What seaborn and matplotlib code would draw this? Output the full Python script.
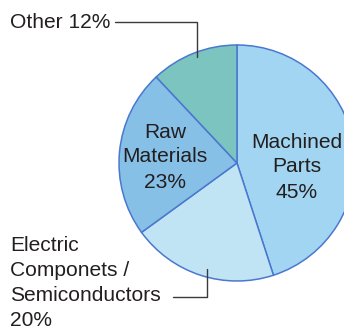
import matplotlib
matplotlib.use("Agg")
import matplotlib.pyplot as plt
import seaborn as sns

# Cost breakdown (clockwise from 12 o'clock)
categories = ["Machined Parts", "Electric Componets / Semiconductors", "Raw Materials", "Other"]
shares = [45, 20, 23, 12]
slice_colors = ["#a2d5f1", "#c1e4f4", "#86c0e7", "#7bc4c0"]

sns.set_theme(style="white")
plt.rcParams["font.family"] = ["Liberation Sans", "DejaVu Sans"]

W, H = 344, 329
fig = plt.figure(figsize=(W / 100, H / 100), dpi=100)
ax = fig.add_axes([0, 0, 1, 1])

cx, cy, r = 237, H - 163, 118
ax.pie(shares, colors=slice_colors, startangle=90, counterclock=False,
       center=(cx, cy), radius=r, frame=True,
       wedgeprops=dict(edgecolor="#4a78cf", linewidth=1.1))
ax.set_xlim(0, W)
ax.set_ylim(0, H)
ax.set_aspect("equal")
ax.set_axis_off()

txt = "#231f20"
fs = 15.1

def ypx(y):
    return H - y

def stacked(x, y0, lines, ha):
    # one text per line, 25 px apart
    for i, line in enumerate(lines):
        ax.text(x, ypx(y0 + 25 * i), line, ha=ha, va="center",
                fontsize=fs, color=txt)

# Inside labels
stacked(297, 142, ["Machined", "Parts", f"{shares[0]}%"], "center")
stacked(165, 132, ["Raw", "Materials", f"{shares[2]}%"], "center")

# Outside labels with leader lines
ax.text(10, ypx(22), f"{categories[3]} {shares[3]}%", ha="left", va="center",
        fontsize=fs, color=txt)
ax.plot([115, 197, 197], [ypx(22), ypx(22), ypx(57)], color="#3a3a3a", lw=1.0)

stacked(10, 245.5, ["Electric", "Componets /", "Semiconductors", f"{shares[1]}%"], "left")
ax.plot([173, 207, 207], [ypx(296.5), ypx(296.5), ypx(269)], color="#3a3a3a", lw=1.0)

fig.savefig("out.png", dpi=100, facecolor="white")
